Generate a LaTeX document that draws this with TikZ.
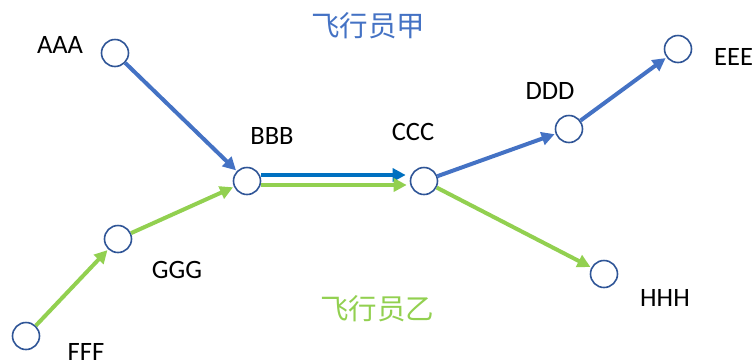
\documentclass[tikz,border=0pt]{standalone}
\usepackage{fontspec}
\setmainfont{Carlito}
\newfontfamily\cjk{Noto Sans CJK SC}
\usetikzlibrary{arrows.meta}
\definecolor{pblue}{HTML}{4472C4}
\definecolor{dblue}{HTML}{0070C0}
\definecolor{pgreen}{HTML}{92D050}
\definecolor{ring}{HTML}{2F5597}
\tikzset{
  pt/.style={circle,draw=ring,line width=1.6pt,fill=white,minimum size=27pt,inner sep=0pt},
  lbl/.style={font=\fontsize{26.5}{30}\selectfont,inner sep=0pt},
  ttl/.style={font=\cjk\fontsize{28.5}{32}\selectfont,inner sep=0pt},
  arr/.style={line width=4pt,-{Triangle[length=13pt,width=13pt]},shorten >=1pt}
}
\begin{document}
\begin{tikzpicture}[x=1pt,y=-1pt]
\useasboundingbox (0,0) rectangle (756,360);
\node[pt] (a) at (115,53) {};
\node[pt] (b) at (247,181) {};
\node[pt] (c) at (424,181) {};
\node[pt] (d) at (569,129) {};
\node[pt] (e) at (678,49) {};
\node[pt] (f) at (26,336) {};
\node[pt] (g) at (118,239) {};
\node[pt] (h) at (604,274) {};
\node[lbl] (la) at (60,45) {AAA};
\node[lbl] (lb) at (272,136) {BBB};
\node[lbl] (lc) at (413,132) {CCC};
\node[lbl] (ld) at (550,91) {DDD};
\node[lbl,anchor=west] (le) at (714,57) {EEE};
\node[lbl] (lf) at (86,352) {FFF};
\node[lbl] (lg) at (177,270) {GGG};
\node[lbl] (lh) at (665,298) {HHH};
\node[ttl,text=pblue] (t1) at (368,26) {飞行员甲};
\node[ttl,text=pgreen] (t2) at (377,309) {飞行员乙};
\draw[arr,pblue] (a) -- (b);
\draw[arr,dblue] ([yshift=6pt]b.east) -- ([yshift=6pt,xshift=-3pt]c.west);
\draw[arr,pgreen] ([yshift=-4pt]b.east) -- ([yshift=-4pt,xshift=-2pt]c.west);
\draw[arr,pblue] (c) -- (d);
\draw[arr,pblue] (d) -- (e);
\draw[arr,pgreen] (f) -- (g);
\draw[arr,pgreen] (g) -- (b);
\draw[arr,pgreen] (c) -- (h);
\end{tikzpicture}
\end{document}
